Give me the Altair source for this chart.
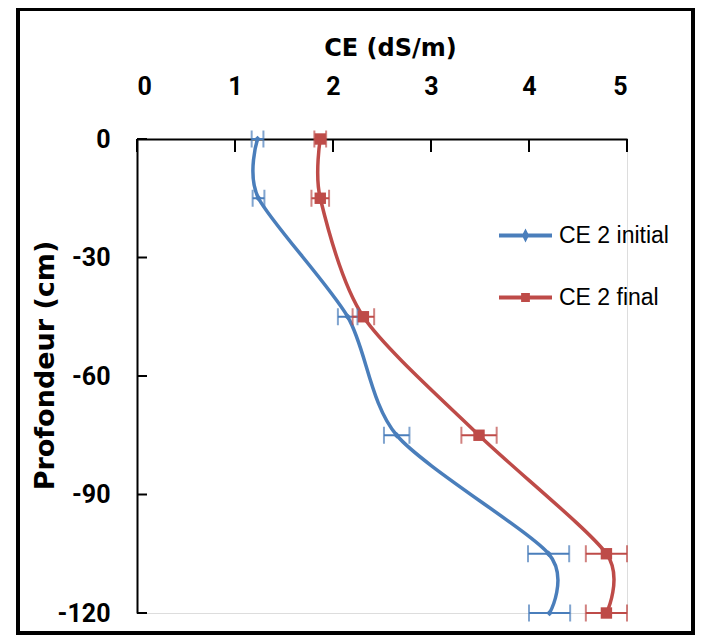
import altair as alt
import pandas as pd

# ---- data ----
depths = [0, -15, -45, -75, -105, -120]
ce_initial = [1.23, 1.24, 2.15, 2.65, 4.20, 4.21]
err_initial = [0.06, 0.06, 0.10, 0.13, 0.21, 0.21]
ce_final = [1.87, 1.87, 2.31, 3.49, 4.79, 4.79]
err_final = [0.06, 0.09, 0.11, 0.18, 0.21, 0.21]
series_names = ["CE 2 initial", "CE 2 final"]
series_colors = ["#4A7EBB", "#BE4B48"]
x_ticks = [0, 1, 2, 3, 4, 5]
y_ticks = [0, -30, -60, -90, -120]

rows = []
for name, col, vals, errs in [(series_names[0], series_colors[0], ce_initial, err_initial),
                              (series_names[1], series_colors[1], ce_final, err_final)]:
    for i, (d, v, e) in enumerate(zip(depths, vals, errs)):
        rows.append({"series": name, "col": col, "idx": i, "depth": d, "ce": v,
                     "lo": v - e, "hi": v + e})
df = pd.DataFrame(rows)
caps = pd.concat([
    df[["series", "col", "depth", "lo"]].rename(columns={"lo": "cap"}),
    df[["series", "col", "depth", "hi"]].rename(columns={"hi": "cap"}),
])

FONT = "Roboto, Liberation Sans, sans-serif"
TITLE_FONT = "DejaVu Sans"

xscale = alt.Scale(domain=[0, 5], nice=False, zero=False)
yscale = alt.Scale(domain=[-120, 0], nice=False, zero=False)
cscale = alt.Scale(domain=series_names, range=series_colors)
direct_color = alt.Color("col:N", scale=None)

xaxis = alt.Axis(orient="top", values=x_ticks, ticks=False, grid=False,
                 format="d",
                 domainColor="black", domainWidth=2,
                 labelFont=FONT, labelFontSize=25, labelFontWeight="bold",
                 labelColor="black", labelPadding=40,
                 title="CE (dS/m)", titleFont=TITLE_FONT, titleFontSize=24,
                 titleFontWeight="bold", titleColor="black",
                 titleX=253, titleY=-91, titleBaseline="middle")
yaxis = alt.Axis(values=y_ticks, ticks=False, grid=False,
                 labelExpr="(datum.value < 0 ? '-' : '') + abs(datum.value)",
                 domainColor="black", domainWidth=2,
                 labelFont=FONT, labelFontSize=25, labelFontWeight="bold",
                 labelColor="black", labelPadding=27,
                 title="Profondeur (cm)", titleFont=TITLE_FONT, titleFontSize=27,
                 titleFontWeight="bold", titleColor="black",
                 titleX=-92, titleY=226, titleBaseline="middle")

base = alt.Chart(df)

lines = base.mark_line(interpolate="cardinal", tension=0.2, strokeWidth=3.5).encode(
    x=alt.X("ce:Q", scale=xscale, axis=xaxis),
    y=alt.Y("depth:Q", scale=yscale, axis=yaxis),
    color=direct_color,
    order=alt.Order("idx:Q"),
    detail="series:N",
)

err_rules = base.mark_rule(strokeWidth=2).encode(
    x="lo:Q", x2="hi:Q", y="depth:Q", color=direct_color,
)

err_caps = alt.Chart(caps).mark_tick(orient="vertical", size=17, thickness=2).encode(
    x="cap:Q", y="depth:Q", color=direct_color,
)

pts_init = base.transform_filter(alt.datum.series == series_names[0]).mark_point(
    shape="diamond", filled=True, size=45, opacity=1).encode(
    x="ce:Q", y="depth:Q", color=direct_color,
)
pts_final = base.transform_filter(alt.datum.series == series_names[1]).mark_point(
    shape="square", filled=True, size=130, opacity=1).encode(
    x="ce:Q", y="depth:Q", color=direct_color,
)

sym_init = "M-1,0H1M0,-0.1L0.05,0L0,0.1L-0.05,0Z"
sym_final = "M-1,0H1M-0.09,-0.09H0.09V0.09H-0.09Z"

legend = alt.Legend(orient="none", legendX=360, legendY=68, title=None,
                    symbolSize=2809, symbolStrokeWidth=4, symbolOpacity=1,
                    labelFont="Liberation Sans", labelFontSize=23, labelColor="black",
                    labelOffset=5, rowPadding=21, padding=0)
legend_layer = base.mark_point(filled=False, size=0, opacity=1, strokeOpacity=1).encode(
    x="ce:Q", y="depth:Q",
    color=alt.Color("series:N", scale=cscale, legend=legend),
    shape=alt.Shape("series:N", scale=alt.Scale(domain=series_names,
                                                range=[sym_init, sym_final]),
                    legend=legend),
)

xt = pd.DataFrame({"t": x_ticks})
yt = pd.DataFrame({"t": y_ticks})
xtick_marks = alt.Chart(xt).mark_rule(color="black", strokeWidth=2).encode(
    x="t:Q", y=alt.value(0), y2=alt.value(13))
ytick_marks = alt.Chart(yt).mark_rule(color="black", strokeWidth=2).encode(
    y="t:Q", x=alt.value(0), x2=alt.value(10))

frame = alt.Chart(pd.DataFrame({"a": [0]})).mark_rect(
    fill="transparent", stroke="black", strokeWidth=4).encode(
    x=alt.value(-119), x2=alt.value(556), y=alt.value(-130), y2=alt.value(494))

chart = alt.layer(frame, legend_layer, lines, err_rules, err_caps, pts_init, pts_final,
                  xtick_marks, ytick_marks).properties(
    width=490, height=474,
    autosize=alt.AutoSizeParams(type="none"),
    padding={"left": 129, "top": 131, "right": 68, "bottom": 22},
).configure_view(strokeWidth=0).configure(background="white")

chart.save("out.html", embed_options={"renderer": "svg", "actions": False})
